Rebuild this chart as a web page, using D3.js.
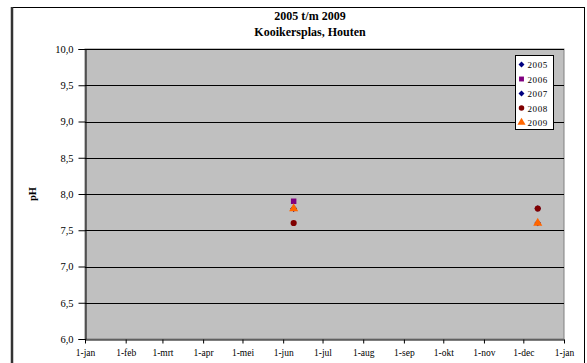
<!DOCTYPE html>
<html>
<head>
<meta charset="utf-8">
<script src="https://cdn.jsdelivr.net/npm/d3@7"></script>
<style>
  body { margin: 0; background: #fff; }
  svg { display: block; font-family: "Liberation Serif", "DejaVu Serif", serif; }
</style>
</head>
<body>
<div id="chart"></div>
<script>
// measurement dates (month-day) and pH per year
const dates = ["06-09", "12-12"];
const years = ["2005", "2006", "2007", "2008", "2009"];
const ph2005 = [7.8, 7.8];
const ph2006 = [7.9, null];
const ph2007 = [7.8, 7.6];
const ph2008 = [7.6, 7.8];
const ph2009 = [7.8, 7.6];
const yTicks = [6.0, 6.5, 7.0, 7.5, 8.0, 8.5, 9.0, 9.5, 10.0];
const monthLabels = ["jan", "feb", "mrt", "apr", "mei", "jun", "jul", "aug", "sep", "okt", "nov", "dec", "jan"];

const seriesValues = [ph2005, ph2006, ph2007, ph2008, ph2009];
const colors = ["#000080", "#800080", "#000080", "#800000", "#ff6600"];
const symbols = ["diamond", d3.symbolSquare, "diamond", d3.symbolCircle, d3.symbolTriangle];
const symSizes = [22, 30, 22, 30, 36];

const width = 587, height = 363;
const margin = {top: 49, right: 23, bottom: 24, left: 85};
const plotW = width - margin.left - margin.right;   // 479
const plotH = height - margin.top - margin.bottom;  // 290

// diamond = square turned 45 degrees
function marker(sel, i, scale) {
    const isDiamond = symbols[i] === "diamond";
    const type = isDiamond ? d3.symbolSquare : symbols[i];
    sel.attr("d", d3.symbol().type(type).size(symSizes[i] * scale))
        .attr("fill", colors[i]);
    return isDiamond ? " rotate(45)" : "";
}

const svg = d3.select("#chart").append("svg")
    .attr("width", width)
    .attr("height", height);

// chart frame
svg.append("rect")
    .attr("x", 11.5).attr("y", 7.5)
    .attr("width", 573).attr("height", 370)
    .attr("fill", "#fff").attr("stroke", "#000").attr("stroke-width", 1);
svg.append("line")
    .attr("x1", 12).attr("x2", 12).attr("y1", 7).attr("y2", height)
    .attr("stroke", "#333").attr("stroke-width", 2.5);

// titles
svg.append("text")
    .attr("x", 310).attr("y", 20)
    .attr("text-anchor", "middle")
    .attr("font-size", 12).attr("font-weight", "bold")
    .text("2005 t/m 2009");
svg.append("text")
    .attr("x", 310).attr("y", 36)
    .attr("text-anchor", "middle")
    .attr("font-size", 12).attr("font-weight", "bold")
    .text("Kooikersplas, Houten");

const g = svg.append("g")
    .attr("transform", `translate(${margin.left},${margin.top})`);

const parseDay = d3.timeParse("%Y-%m-%d");
const xScale = d3.scaleTime()
    .domain([new Date(2001, 0, 1), new Date(2002, 0, 1)])
    .range([0, plotW]);
const yScale = d3.scaleLinear()
    .domain([6, 10])
    .range([plotH, 0]);

// plot area
g.append("rect")
    .attr("width", plotW).attr("height", plotH)
    .attr("fill", "#c0c0c0")
    .attr("stroke", "#808080").attr("stroke-width", 1);

// gridlines
g.selectAll(".grid")
    .data(yTicks.filter(d => d > 6))
    .enter().append("line")
    .attr("x1", 0).attr("x2", plotW)
    .attr("y1", d => Math.round(yScale(d)) + 0.5)
    .attr("y2", d => Math.round(yScale(d)) + 0.5)
    .attr("stroke", "#000").attr("stroke-width", 1);

// Y axis
const yAxis = g.append("g")
    .attr("transform", "translate(0.5,0)")
    .call(d3.axisLeft(yScale).tickValues(yTicks).tickSize(7).tickPadding(5)
        .tickFormat(d => d3.format(".1f")(d).replace(".", ",")));
yAxis.select(".domain").attr("stroke", "#000");
yAxis.selectAll("text").attr("font-size", 10.5).attr("font-family", "Liberation Serif").attr("fill", "#000");

// X axis
const monthTicks = d3.range(13).map(i => new Date(2001, i, 1));
const xAxis = g.append("g")
    .attr("transform", `translate(0,${plotH + 0.5})`)
    .call(d3.axisBottom(xScale).tickValues(monthTicks).tickSize(4).tickPadding(6)
        .tickSizeOuter(0)
        .tickFormat((d, i) => "1-" + monthLabels[i]));
xAxis.select(".domain").attr("stroke", "#000");
xAxis.selectAll("text").attr("font-size", 9.5).attr("font-family", "Liberation Serif").attr("fill", "#000");

// Y axis title
svg.append("text")
    .attr("transform", "translate(36,194) rotate(-90)")
    .attr("text-anchor", "middle")
    .attr("font-size", 10.5).attr("font-weight", "bold")
    .text("pH");

// points
seriesValues.forEach((vals, si) => {
    const pts = vals.map((v, i) => ({date: parseDay("2001-" + dates[i]), v}))
        .filter(d => d.v != null);
    g.selectAll(".s" + si)
        .data(pts)
        .enter().append("path")
        .attr("class", "s" + si)
        .each(function(d) {
            const rot = marker(d3.select(this), si, 1);
            d3.select(this).attr("transform", `translate(${xScale(d.date)},${yScale(d.v)})` + rot);
        });
});

// legend
const legend = svg.append("g").attr("transform", "translate(515.5,55.5)");
legend.append("rect")
    .attr("width", 38).attr("height", 74)
    .attr("fill", "#fff").attr("stroke", "#000").attr("stroke-width", 1);
years.forEach((y, i) => {
    const cy = 9 + i * 14.5;
    const p = legend.append("path");
    const rot = marker(p, i, 0.8);
    p.attr("transform", `translate(6,${cy})` + rot);
    legend.append("text")
        .attr("x", 12).attr("y", cy + 3.5)
        .attr("font-size", 9)
        .attr("letter-spacing", 0.6)
        .text(y);
});
</script>
</body>
</html>
